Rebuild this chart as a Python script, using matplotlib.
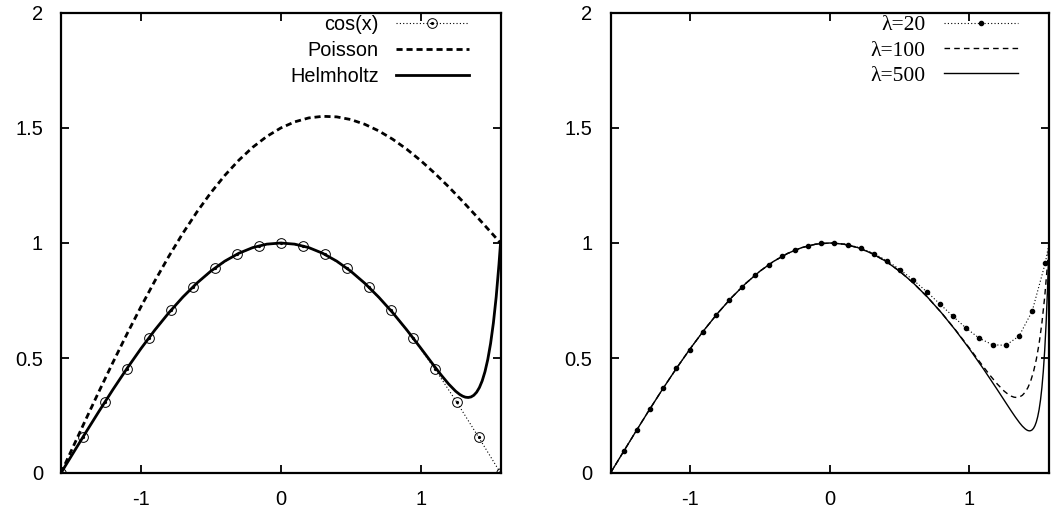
import matplotlib
matplotlib.use("Agg")
import matplotlib.pyplot as plt
from matplotlib.legend_handler import HandlerTuple

plt.rcParams['font.family'] = ['Liberation Sans', 'DejaVu Sans']
plt.rcParams['axes.unicode_minus'] = False

# --- left panel data ---
x_cos = [-1.571, -1.414, -1.257, -1.100, -0.942, -0.785, -0.628, -0.471, -0.314, -0.157, 0.0,
         0.157, 0.314, 0.471, 0.628, 0.785, 0.942, 1.100, 1.257, 1.414, 1.571]
y_cos = [0.0, 0.156, 0.309, 0.454, 0.588, 0.707, 0.809, 0.891, 0.951, 0.988, 1.0,
         0.988, 0.951, 0.891, 0.809, 0.707, 0.588, 0.454, 0.309, 0.156, 0.0]

x_poisson = [-1.571, -1.5, -1.4, -1.3, -1.2, -1.1, -1.0, -0.9, -0.8, -0.7, -0.6, -0.5, -0.4, -0.3,
             -0.2, -0.1, 0.0, 0.1, 0.2, 0.3, 0.4, 0.5, 0.6, 0.7, 0.8, 0.9, 1.0, 1.1, 1.2, 1.3,
             1.4, 1.5, 1.571]
y_poisson = [0.0, 0.0932, 0.2244, 0.3537, 0.4804, 0.6035, 0.7220, 0.8351, 0.9421, 1.0420, 1.1343,
             1.2184, 1.2938, 1.3598, 1.4164, 1.4632, 1.5, 1.5268, 1.5438, 1.5508, 1.5484, 1.5368,
             1.5163, 1.4876, 1.4513, 1.4081, 1.3586, 1.3037, 1.2444, 1.1813, 1.1156, 1.0482, 1.0]

x_helm = [-1.571, -1.5, -1.4, -1.3, -1.2, -1.1, -1.0, -0.9, -0.8, -0.7, -0.6, -0.5, -0.4, -0.3,
          -0.2, -0.1, 0.0, 0.1, 0.2, 0.3, 0.4, 0.5, 0.6, 0.7, 0.8, 0.9, 1.0, 1.05, 1.1, 1.15,
          1.2, 1.25, 1.28, 1.3, 1.32, 1.34, 1.36, 1.38, 1.4, 1.42, 1.44, 1.46, 1.48, 1.5, 1.52,
          1.54, 1.56, 1.571]
y_helm = [0.0, 0.0707, 0.1700, 0.2675, 0.3624, 0.4536, 0.5403, 0.6216, 0.6967, 0.7648, 0.8253,
          0.8776, 0.9211, 0.9553, 0.9801, 0.9950, 1.0, 0.9950, 0.9801, 0.9553, 0.9211, 0.8776,
          0.8253, 0.7648, 0.6972, 0.6228, 0.5436, 0.5031, 0.4626, 0.4234, 0.3869, 0.3557, 0.3413,
          0.3342, 0.3296, 0.3283, 0.3307, 0.3380, 0.3512, 0.3716, 0.4008, 0.4409, 0.4940, 0.5633,
          0.6525, 0.7657, 0.9084, 1.0]

# --- right panel data ---
x_lam20 = [-1.571, -1.476, -1.382, -1.288, -1.193, -1.099, -1.004, -0.910, -0.816, -0.721, -0.627,
           -0.532, -0.438, -0.344, -0.249, -0.155, -0.060, 0.034, 0.128, 0.223, 0.317, 0.412,
           0.506, 0.600, 0.695, 0.789, 0.884, 0.978, 1.072, 1.167, 1.261, 1.356, 1.450, 1.545,
           1.571]
y_lam20 = [0.0, 0.0943, 0.1877, 0.2794, 0.3687, 0.4547, 0.5366, 0.6137, 0.6855, 0.7510, 0.8100,
           0.8618, 0.9058, 0.9417, 0.9694, 0.9885, 0.9989, 1.0004, 0.9934, 0.9777, 0.9538, 0.9221,
           0.8833, 0.8381, 0.7881, 0.7347, 0.6807, 0.6293, 0.5857, 0.5573, 0.5552, 0.5951, 0.7031,
           0.9150, 1.0]
n_dots20 = 34

x_lam100 = x_helm
y_lam100 = y_helm

x_lam500 = [-1.571, -1.5, -1.4, -1.3, -1.2, -1.1, -1.0, -0.9, -0.8, -0.7, -0.6, -0.5, -0.4, -0.3,
            -0.2, -0.1, 0.0, 0.1, 0.2, 0.3, 0.4, 0.5, 0.6, 0.7, 0.8, 0.9, 1.0, 1.1, 1.2, 1.25,
            1.3, 1.33, 1.36, 1.38, 1.4, 1.41, 1.42, 1.43, 1.44, 1.45, 1.46, 1.47, 1.48, 1.49,
            1.5, 1.51, 1.52, 1.53, 1.54, 1.55, 1.56, 1.565, 1.571]
y_lam500 = [0.0, 0.0707, 0.1700, 0.2675, 0.3624, 0.4536, 0.5403, 0.6216, 0.6967, 0.7648, 0.8253,
            0.8776, 0.9211, 0.9553, 0.9801, 0.9950, 1.0, 0.9950, 0.9801, 0.9553, 0.9211, 0.8776,
            0.8253, 0.7648, 0.6967, 0.6216, 0.5403, 0.4536, 0.3627, 0.3161, 0.2698, 0.2431, 0.2182,
            0.2036, 0.1920, 0.1876, 0.1845, 0.1832, 0.1841, 0.1876, 0.1945, 0.2056, 0.2220, 0.2449,
            0.2760, 0.3175, 0.3719, 0.4424, 0.5330, 0.6489, 0.7963, 0.8842, 1.0]

xticks = [-1, 0, 1]
xticklabels = ['-1', '0', '1']
yticks = [0, 0.5, 1, 1.5, 2]
yticklabels = ['0', '0.5', '1', '1.5', '2']

W, H = 1058, 515
fig = plt.figure(figsize=(W / 100, H / 100), dpi=100)
ax1 = fig.add_axes([61 / W, 42 / H, 439.5 / W, 460 / H])
ax2 = fig.add_axes([610.5 / W, 42 / H, 438.5 / W, 460 / H])


def style_axes(ax):
    ax.set_xlim(-1.5708, 1.5708)
    ax.set_ylim(0, 2)
    ax.set_xticks(xticks)
    ax.set_xticklabels(xticklabels)
    ax.set_yticks(yticks)
    ax.set_yticklabels(yticklabels)
    ax.tick_params(direction='in', length=6, width=1.3, top=True, right=True,
                   labelsize=14.5, colors='black')
    ax.tick_params(axis='x', pad=12)
    ax.tick_params(axis='y', pad=13)
    for s in ax.spines.values():
        s.set_linewidth(1.6)


# left panel
l_cos, = ax1.plot(x_cos, y_cos, color='black', lw=0.8, ls=(0, (1, 2)), marker='o',
                  ms=7, mfc='none', mec='black', mew=0.7)
l_dot, = ax1.plot(x_cos, y_cos, ls='none', marker='o', ms=1.3, color='black')
l_poi, = ax1.plot(x_poisson, y_poisson, color='black', lw=2.0, ls=(0, (2.2, 1.4)))
l_hel, = ax1.plot(x_helm, y_helm, color='black', lw=2.0)
style_axes(ax1)
ax1.legend([(l_cos, l_dot), l_poi, l_hel], ['cos(x)', 'Poisson', 'Helmholtz'],
           handler_map={tuple: HandlerTuple(ndivide=1)},
           loc='upper right', bbox_to_anchor=(469 / W, 1 - 15 / H), bbox_transform=fig.transFigure,
           frameon=False, markerfirst=False, borderpad=0, borderaxespad=0,
           handlelength=3.7, handletextpad=0.85, labelspacing=0.35, fontsize=14.3)

# right panel
ax2.plot(x_lam20, y_lam20, color='black', lw=0.8, ls=(0, (1, 2)), marker='o', ms=3,
         markevery=list(range(n_dots20)), label='λ=20')
ax2.plot(x_lam100, y_lam100, color='black', lw=1.0, ls=(0, (4, 3)), label='λ=100')
ax2.plot(x_lam500, y_lam500, color='black', lw=1.0, label='λ=500')
style_axes(ax2)
ax2.legend(loc='upper right', bbox_to_anchor=(1018 / W, 1 - 15 / H), bbox_transform=fig.transFigure,
           frameon=False, markerfirst=False, borderpad=0, borderaxespad=0,
           handlelength=3.45, handletextpad=0.84, labelspacing=0.25,
           prop={'family': ['Liberation Serif', 'DejaVu Serif'], 'size': 15.5})

fig.savefig('out.png', dpi=100)
